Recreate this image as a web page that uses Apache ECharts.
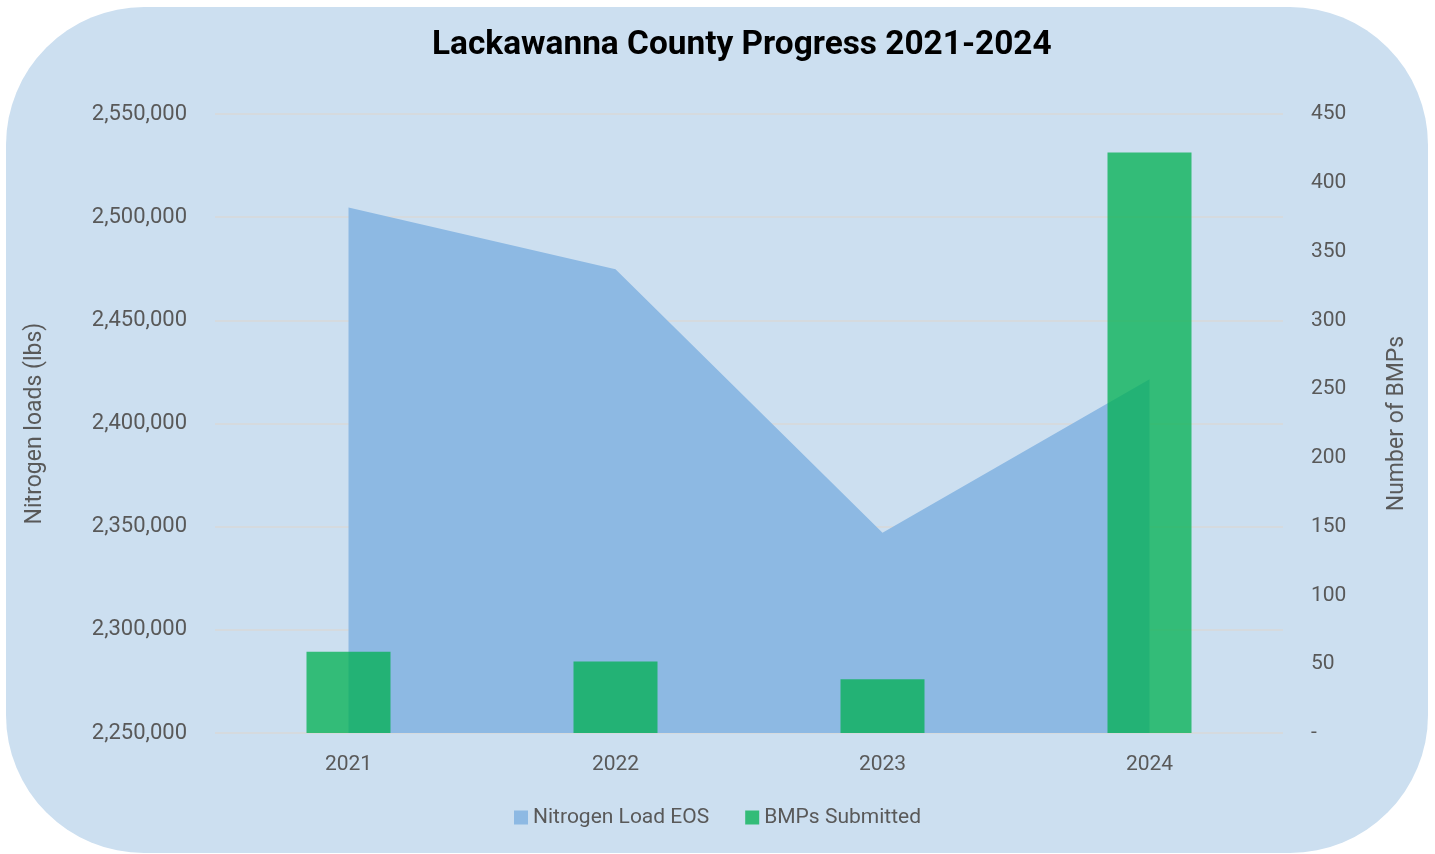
<!DOCTYPE html>
<html>
<head>
<meta charset="utf-8">
<title>Lackawanna County Progress 2021-2024</title>
<script src="https://cdn.jsdelivr.net/npm/echarts@6/dist/echarts.min.js"></script>
<style>
  html, body { margin: 0; padding: 0; background: #ffffff; }
  #chart { width: 1435px; height: 854px; }
</style>
</head>
<body>
<div id="chart"></div>
<script>
const years = ['2021', '2022', '2023', '2024'];
const nitrogenLoad = [2504700, 2474800, 2347000, 2421500];
const bmpsSubmitted = [59, 52, 39, 422];

const fontFamily = 'Roboto, "Noto Sans", sans-serif';
const labelColor = '#595959';

function formatThousands(v) {
    return Number(v).toLocaleString('en-US');
}

const chart = echarts.init(document.getElementById('chart'), null, { renderer: 'canvas' });

chart.setOption({
    animation: false,
    textStyle: { fontFamily },
    graphic: [
        {
            type: 'rect',
            z: -10,
            silent: true,
            shape: { x: 6, y: 7, width: 1422, height: 846, r: 138 },
            style: { fill: '#CCDFF0' },
        },
    ],
    title: {
        text: 'Lackawanna County Progress 2021-2024',
        left: 427,
        top: 24,
        textStyle: { fontFamily, fontWeight: 'bold', fontSize: 33.4, color: '#000000' },
    },
    grid: { left: 215, right: 152, top: 114, bottom: 121 },
    legend: {
        bottom: 21,
        left: 'center',
        icon: 'rect',
        itemWidth: 14,
        itemHeight: 14,
        itemGap: 36,
        textStyle: { fontSize: 21, color: labelColor },
        data: ['Nitrogen Load EOS', 'BMPs Submitted'],
    },
    xAxis: {
        type: 'category',
        data: years,
        axisLine: { show: false },
        axisTick: { show: false },
        axisLabel: { fontSize: 21, color: labelColor, margin: 21 },
    },
    yAxis: [
        {
            type: 'value',
            min: 2250000,
            max: 2550000,
            interval: 50000,
            name: 'Nitrogen loads (lbs)',
            nameLocation: 'middle',
            nameRotate: 90,
            nameGap: 168,
            nameTextStyle: { fontSize: 23, color: labelColor },
            axisLine: { show: false },
            axisTick: { show: false },
            axisLabel: { fontSize: 22, color: labelColor, margin: 28, formatter: formatThousands },
            splitLine: { lineStyle: { color: '#D9D9D9', width: 1.5 } },
        },
        {
            type: 'value',
            min: 0,
            max: 450,
            interval: 50,
            position: 'right',
            name: 'Number of BMPs',
            nameLocation: 'middle',
            nameRotate: 90,
            nameGap: 103,
            nameTextStyle: { fontSize: 23, color: labelColor },
            axisLine: { show: false },
            axisTick: { show: false },
            axisLabel: {
                fontSize: 21,
                color: labelColor,
                margin: 28,
                formatter: v => (v === 0 ? '-' : String(v)),
            },
            splitLine: { show: false },
        },
    ],
    series: [
        {
            name: 'Nitrogen Load EOS',
            type: 'line',
            yAxisIndex: 0,
            data: nitrogenLoad,
            showSymbol: false,
            symbol: 'none',
            lineStyle: { width: 0, opacity: 0 },
            itemStyle: { color: '#8DB9E3' },
            areaStyle: { color: '#8DB9E3', opacity: 1, origin: 'start' },
            z: 1,
        },
        {
            name: 'BMPs Submitted',
            type: 'bar',
            yAxisIndex: 1,
            data: bmpsSubmitted,
            barWidth: 84,
            itemStyle: { color: 'rgba(0,176,80,0.75)' },
            z: 3,
        },
    ],
});

window.addEventListener('resize', () => chart.resize());
</script>
</body>
</html>
